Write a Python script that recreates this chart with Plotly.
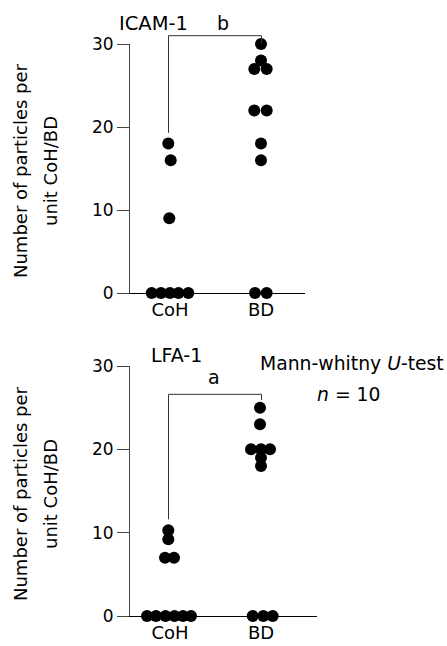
import plotly.graph_objects as go

W, H = 447, 646

# ---------------- data ----------------
categories = ["CoH", "BD"]
y_ticks = [0, 10, 20, 30]

icam_coh = [18, 16, 9, 0, 0, 0, 0, 0]
icam_bd = [30, 28, 27, 27, 22, 22, 18, 16, 0, 0]
lfa_coh = [10.3, 9.2, 7, 7, 0, 0, 0, 0, 0, 0]
lfa_bd = [25, 23, 20, 20, 20, 19, 18, 0, 0, 0]

# significance brackets: (start value CoH, top value, end value BD)
icam_bracket = [19.3, 31, 30]
lfa_bracket = [11.6, 26.6, 25.9]

# ---------------- layout-only helpers (pixel offsets of dots) ----------------
PX_PER_CAT = 91.0
icam_coh_dx = [-1.7, 0.7, -0.7, -18.3, -9, 0, 8.5, 18.3]
icam_bd_dx = [0, 0, -6.7, 5.7, -6.7, 5.7, 0, 0, -6, 5.7]
lfa_coh_dx = [-1.7, -1.7, -5, 4, -23, -14, -4.5, 4.5, 13, 21]
lfa_bd_dx = [-1, -1, -10, 0, 9, 0, 0, -8.3, 2.3, 11.7]

FONT = "DejaVu Sans"
FS = 17


def px_x(p):
    return p / W


def px_y(p):
    return 1 - p / H


def xs(cat_index, dx):
    return [cat_index + d / PX_PER_CAT for d in dx]


fig = go.Figure()

marker = dict(color="black", size=12, line=dict(width=0))

for vals, dx, ci, ax in [
    (icam_coh, icam_coh_dx, 1, ("x", "y")),
    (icam_bd, icam_bd_dx, 2, ("x", "y")),
    (lfa_coh, lfa_coh_dx, 1, ("x2", "y2")),
    (lfa_bd, lfa_bd_dx, 2, ("x2", "y2")),
]:
    fig.add_trace(go.Scatter(
        x=xs(ci, dx), y=vals, mode="markers", marker=marker,
        xaxis=ax[0], yaxis=ax[1], cliponaxis=False, showlegend=False,
        hoverinfo="y"))

x1_range = [1 + (117 - 170) / PX_PER_CAT, 1 + (305 - 170) / PX_PER_CAT]
x2_range = [1 + (117 - 170) / PX_PER_CAT, 1 + (317 - 170) / PX_PER_CAT]
y_range = [0, 30]

common_x = dict(tickvals=[1, 2], ticktext=categories, showline=True,
                linecolor="black", linewidth=1, ticks="", showgrid=False,
                zeroline=False, tickfont=dict(family=FONT, size=18, color="black"),
                fixedrange=True, automargin=False)
common_y = dict(range=y_range, tickvals=y_ticks, showline=True,
                linecolor="#444", linewidth=1, ticks="outside", ticklen=12,
                tickcolor="#444", tickwidth=1, showgrid=False, zeroline=False,
                tickfont=dict(family=FONT, size=FS, color="black"),
                anchor="free", position=px_x(129),
                fixedrange=True, automargin=False)

fig.update_layout(
    template="none",
    width=W, height=H,
    margin=dict(l=0, r=0, t=0, b=0, pad=0, autoexpand=False),
    paper_bgcolor="white", plot_bgcolor="white",
    font=dict(family=FONT, size=FS, color="black"),
    xaxis=dict(domain=[px_x(117), px_x(305)], range=x1_range, anchor="y", **common_x),
    yaxis=dict(domain=[px_y(293), px_y(44)], **common_y),
    xaxis2=dict(domain=[px_x(117), px_x(317)], range=x2_range, anchor="y2", **common_x),
    yaxis2=dict(domain=[px_y(616), px_y(366)], **common_y),
)


def dom(v, r):
    return (v - r[0]) / (r[1] - r[0])


def bracket(xref, yref, xr, br, coh_dx, bd_dx):
    xa = dom(1 + coh_dx / PX_PER_CAT, xr)
    xb = dom(2 + bd_dx / PX_PER_CAT, xr)
    pts = [(xa, dom(br[0], y_range)), (xa, dom(br[1], y_range)),
           (xb, dom(br[1], y_range)), (xb, dom(br[2], y_range))]
    path = "M " + " L ".join(f"{a},{b}" for a, b in pts)
    fig.add_shape(type="path", path=path, xref=xref + " domain",
                  yref=yref + " domain", line=dict(color="#333", width=1))


bracket("x", "y", x1_range, icam_bracket, -1.5, 0.5)
bracket("x2", "y2", x2_range, lfa_bracket, -1.5, 0.5)


def note(text, x, y, size=FS, angle=0):
    fig.add_annotation(text=text, x=px_x(x), y=px_y(y), xref="paper",
                       yref="paper", showarrow=False, xanchor="center",
                       yanchor="middle", textangle=angle,
                       font=dict(family=FONT, size=size, color="black"))


note("ICAM-1", 153, 24, 19.5)
note("b", 223, 23, 19)
note("LFA-1", 176, 355, 19)
note("a", 214, 377, 19)
note("Mann-whitny <i>U</i>-test", 352, 363, 18.8)
note("<i>n</i> = 10", 348, 395, 18.8)

for cy in (171, 494):
    note("Number of particles per", 21, cy, 18, angle=-90)
    note("unit CoH/BD", 51, cy, 18, angle=-90)

fig.write_html(
    "out.html",
    config={"displayModeBar": False},
    post_script="document.body.style.margin='0';document.body.style.overflow='hidden';",
)
